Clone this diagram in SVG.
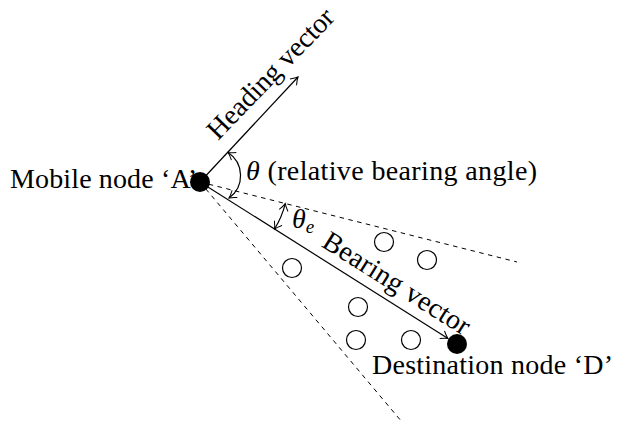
<svg xmlns="http://www.w3.org/2000/svg" width="635" height="427" viewBox="0 0 635 427">
<style>
.ln{stroke:#000;stroke-width:1.2;fill:none}
.dash{stroke:#000;stroke-width:1;fill:none;stroke-dasharray:4.5 4.5}
.t{font-family:"Liberation Serif","Times New Roman","DejaVu Serif",serif;font-size:28px;fill:#000}
.it{font-style:italic}
.oc{fill:#fff;stroke:#000;stroke-width:1.2}
</style>
<defs>
<marker id="ar" viewBox="-10 -6 12 12" markerWidth="12" markerHeight="12" refX="0" refY="0" orient="auto-start-reverse" markerUnits="userSpaceOnUse">
<path d="M-7,-4.5 Q-2.5,-1 0,0 Q-2.5,1 -7,4.5" fill="none" stroke="#000" stroke-width="1"/>
</marker>
</defs>
<rect width="635" height="427" fill="#fff"/>
<g id="connectors">
<line class="dash" x1="200" y1="182" x2="517" y2="262"/>
<line class="dash" x1="200" y1="182" x2="402" y2="422"/>
<line class="ln" x1="200" y1="182" x2="298" y2="77" marker-end="url(#ar)"/>
<line class="ln" x1="200" y1="182" x2="448" y2="338.5" marker-end="url(#ar)"/>
<path class="ln" d="M228,152.5 A27.5 27.5 0 0 1 229,198" marker-start="url(#ar)" marker-end="url(#ar)"/>
<path class="ln" d="M274.5,229 A88 88 0 0 0 285.3,203.6" marker-start="url(#ar)" marker-end="url(#ar)"/>
</g>
<g id="others">
<circle class="oc" cx="384" cy="242" r="9.5"/>
<circle class="oc" cx="427" cy="260" r="9.5"/>
<circle class="oc" cx="292" cy="268" r="9.5"/>
<circle class="oc" cx="358" cy="307" r="9.5"/>
<circle class="oc" cx="356" cy="340" r="9.5"/>
<circle class="oc" cx="411" cy="340" r="9.5"/>
</g>
<g id="nodeA">
<text class="t" x="10" y="188" textLength="187">Mobile node ‘A’</text>
<circle cx="200" cy="182" r="10" fill="#000"/>
</g>
<g id="nodeD">
<circle cx="457" cy="344" r="10" fill="#000"/>
<text class="t" x="372" y="374" textLength="241">Destination node ‘D’</text>
</g>
<g id="labels">
<text class="t" transform="translate(218,141) rotate(-46)" textLength="170">Heading vector</text>
<text class="t" transform="translate(392,291) rotate(32.2)" text-anchor="middle" textLength="169">Bearing vector</text>
<text class="t" x="246" y="180" textLength="291"><tspan class="it">θ</tspan> (relative bearing angle)</text>
<text class="t" x="292" y="228"><tspan class="it">θ</tspan><tspan class="it" font-size="19" dy="5">e</tspan></text>
</g>
</svg>
